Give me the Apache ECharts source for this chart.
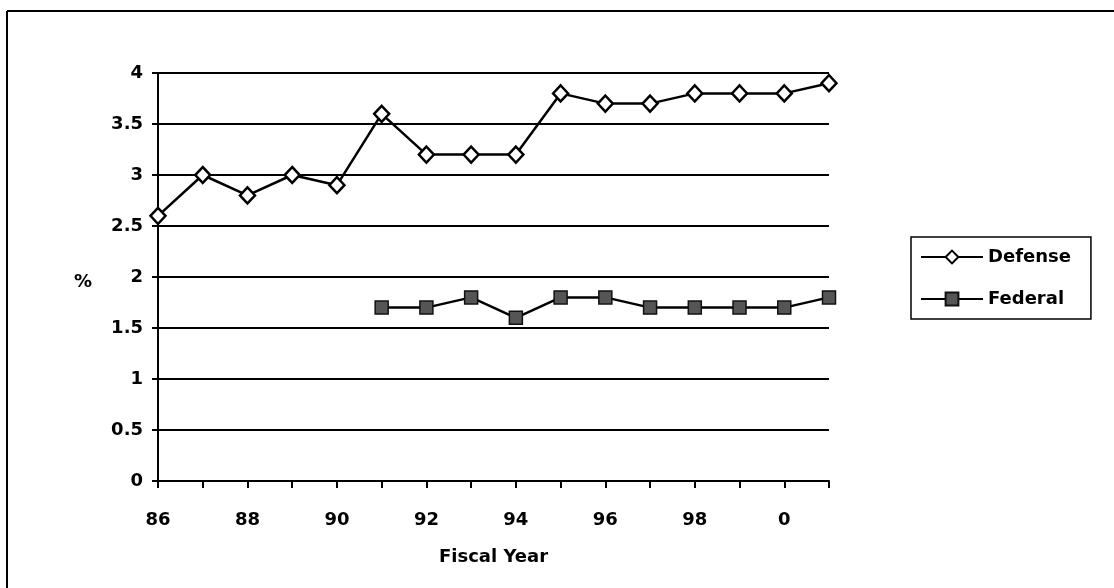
<!DOCTYPE html>
<html>
<head>
<meta charset="utf-8">
<script src="https://cdn.jsdelivr.net/npm/echarts@6/dist/echarts.min.js"></script>
<style>
  html, body { margin: 0; padding: 0; background: #fff; }
  #chart { width: 1114px; height: 588px; }
</style>
</head>
<body>
<div id="chart"></div>
<script>
// Fiscal years 1986–2001, labelled by their last two digits
const years = ['86','87','88','89','90','91','92','93','94','95','96','97','98','99','0','01'];
// Share (%) for each fiscal year
const defense = [2.6, 3.0, 2.8, 3.0, 2.9, 3.6, 3.2, 3.2, 3.2, 3.8, 3.7, 3.7, 3.8, 3.8, 3.8, 3.9];
const federal = [null, null, null, null, null, 1.7, 1.7, 1.8, 1.6, 1.8, 1.8, 1.7, 1.7, 1.7, 1.7, 1.8];
// Only every other year carries a label on the x axis
const shownYearLabels = ['86','88','90','92','94','96','98','0'];

const font = '"DejaVu Sans", "Liberation Sans", Arial, sans-serif';
const fs = 18;
const chart = echarts.init(document.getElementById('chart'), null, { renderer: 'canvas' });

chart.setOption({
  backgroundColor: '#ffffff',
  animation: false,
  textStyle: { fontFamily: font },
  grid: { left: 158, right: 285, top: 73, bottom: 107, containLabel: false },
  graphic: [
    { type: 'line', shape: { x1: 7, y1: 11, x2: 1114, y2: 11 }, style: { stroke: '#000', lineWidth: 2 } },
    { type: 'line', shape: { x1: 7, y1: 11, x2: 7, y2: 588 }, style: { stroke: '#000', lineWidth: 2 } },
    { type: 'text', left: 74, top: 273, style: { text: '%', font: 'bold ' + fs + 'px ' + font, fill: '#000' } }
  ],
  legend: {
    orient: 'vertical',
    left: 911,
    top: 237,
    padding: [11, 20, 11, 9],
    itemGap: 24,
    itemWidth: 62,
    itemHeight: 16,
    borderColor: '#000',
    borderWidth: 1.5,
    borderRadius: 0,
    textStyle: { fontFamily: font, fontWeight: 'bold', fontSize: fs, color: '#000', padding: [0, 0, 0, 0] },
    data: ['Defense', 'Federal']
  },
  xAxis: {
    type: 'category',
    data: years,
    boundaryGap: false,
    name: 'Fiscal Year',
    nameLocation: 'middle',
    nameGap: 67,
    nameTextStyle: { fontFamily: font, fontWeight: 'bold', fontSize: fs, color: '#000' },
    axisLine: { lineStyle: { color: '#000', width: 2 } },
    axisTick: { show: true, interval: 0, length: 7, lineStyle: { color: '#000', width: 2 } },
    axisLabel: {
      interval: 0,
      margin: 30,
      fontFamily: font, fontWeight: 'bold', fontSize: fs, color: '#000',
      formatter: v => shownYearLabels.includes(v) ? v : ''
    },
    splitLine: { show: false }
  },
  yAxis: {
    type: 'value',
    min: 0,
    max: 4,
    interval: 0.5,
    axisLine: { show: true, lineStyle: { color: '#000', width: 2 } },
    axisTick: { show: true, length: 6, lineStyle: { color: '#000', width: 2 } },
    axisLabel: { margin: 15, fontFamily: font, fontWeight: 'bold', fontSize: fs, color: '#000' },
    splitLine: { show: true, lineStyle: { color: '#000', width: 2 } }
  },
  series: [
    {
      name: 'Defense',
      type: 'line',
      data: defense,
      symbol: 'diamond',
      symbolSize: [15, 16],
      lineStyle: { color: '#000', width: 2.5 },
      itemStyle: { color: '#fff', borderColor: '#000', borderWidth: 2.5 },
      z: 3
    },
    {
      name: 'Federal',
      type: 'line',
      data: federal,
      connectNulls: false,
      symbol: 'rect',
      symbolSize: 13,
      lineStyle: { color: '#000', width: 2.5 },
      itemStyle: { color: '#555', borderColor: '#111', borderWidth: 1.5 },
      z: 3
    }
  ]
});
</script>
</body>
</html>
